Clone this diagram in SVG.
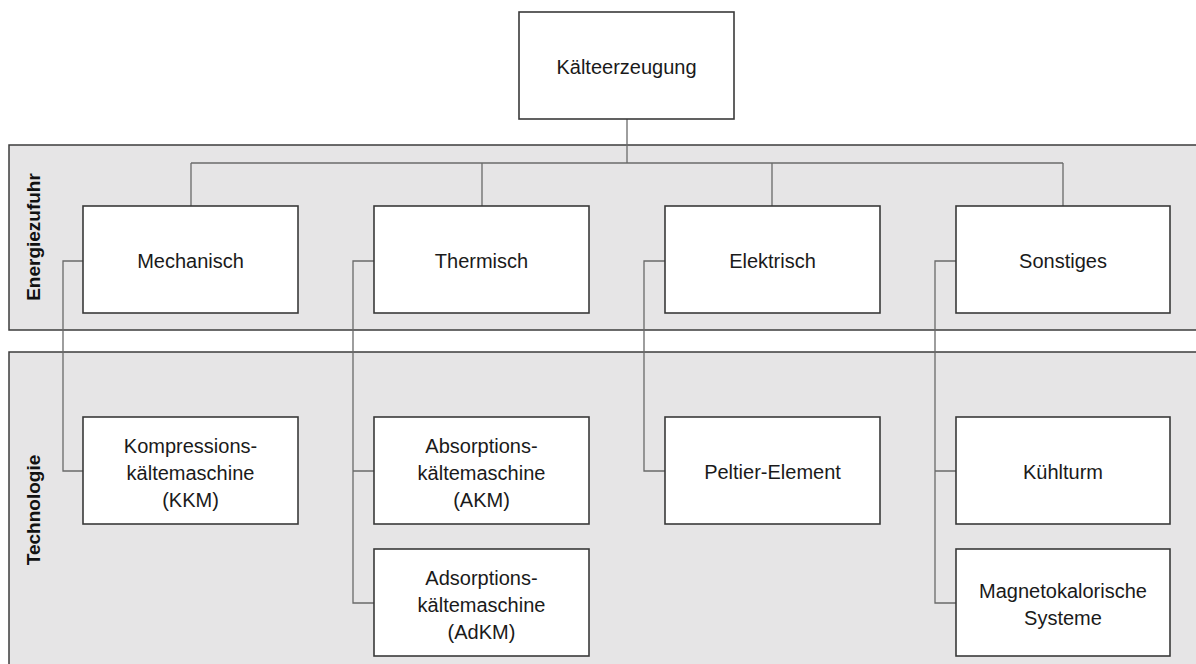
<svg xmlns="http://www.w3.org/2000/svg" width="1196" height="664" viewBox="0 0 1196 664">
  <style>
    .band { fill: #e6e5e6; stroke: #3c3c3c; stroke-width: 1.5; }
    .band-label { font-family: "Liberation Sans", Arial, sans-serif; font-size: 19px; font-weight: bold; fill: #111; text-anchor: middle; }
    .box { fill: #ffffff; stroke: #3a3a3a; stroke-width: 1.6; }
    .label { font-family: "Liberation Sans", Arial, sans-serif; font-size: 20px; fill: #1a1a1a; text-anchor: middle; }
    .conn { fill: none; stroke: #6a6a6a; stroke-width: 1.3; }
  </style>

  <rect width="1196" height="664" fill="#ffffff"/>

  <!-- Layer bands -->
  <g id="bands">
    <rect class="band" x="9" y="145" width="1200" height="185"/>
    <text class="band-label" x="40" y="237" transform="rotate(-90 40 237)">Energiezufuhr</text>
    <rect class="band" x="9" y="352" width="1200" height="330"/>
    <text class="band-label" x="40" y="510" transform="rotate(-90 40 510)">Technologie</text>
  </g>

  <!-- Connectors -->
  <g id="connectors">
    <path class="conn" d="M627 119 V163"/>
    <path class="conn" d="M191 163 H1063"/>
    <path class="conn" d="M191 163 V206 M482 163 V206 M772 163 V206 M1063 163 V206"/>
    <path class="conn" d="M83 261 H63 V471 H83"/>
    <path class="conn" d="M374 261 H353 V471 H374 M353 471 V603 H374"/>
    <path class="conn" d="M665 261 H644 V471 H665"/>
    <path class="conn" d="M956 261 H935 V471 H956 M935 471 V603 H956"/>
  </g>

  <!-- Root -->
  <g id="kaelteerzeugung">
    <rect class="box" x="519" y="12" width="215" height="107"/>
    <text class="label" x="626.5" y="74">Kälteerzeugung</text>
  </g>

  <!-- Energy supply -->
  <g id="mechanisch">
    <rect class="box" x="83" y="206" width="215" height="107"/>
    <text class="label" x="190.5" y="268">Mechanisch</text>
  </g>
  <g id="thermisch">
    <rect class="box" x="374" y="206" width="215" height="107"/>
    <text class="label" x="481.5" y="268">Thermisch</text>
  </g>
  <g id="elektrisch">
    <rect class="box" x="665" y="206" width="215" height="107"/>
    <text class="label" x="772.5" y="268">Elektrisch</text>
  </g>
  <g id="sonstiges">
    <rect class="box" x="956" y="206" width="214" height="107"/>
    <text class="label" x="1063" y="268">Sonstiges</text>
  </g>

  <!-- Technologies -->
  <g id="kkm">
    <rect class="box" x="83" y="417" width="215" height="107"/>
    <text class="label" x="190.5" y="453">Kompressions-</text>
    <text class="label" x="190.5" y="480">kältemaschine</text>
    <text class="label" x="190.5" y="507">(KKM)</text>
  </g>
  <g id="akm">
    <rect class="box" x="374" y="417" width="215" height="107"/>
    <text class="label" x="481.5" y="453">Absorptions-</text>
    <text class="label" x="481.5" y="480">kältemaschine</text>
    <text class="label" x="481.5" y="507">(AKM)</text>
  </g>
  <g id="adkm">
    <rect class="box" x="374" y="549" width="215" height="107"/>
    <text class="label" x="481.5" y="585">Adsorptions-</text>
    <text class="label" x="481.5" y="612">kältemaschine</text>
    <text class="label" x="481.5" y="639">(AdKM)</text>
  </g>
  <g id="peltier">
    <rect class="box" x="665" y="417" width="215" height="107"/>
    <text class="label" x="772.5" y="479">Peltier-Element</text>
  </g>
  <g id="kuehlturm">
    <rect class="box" x="956" y="417" width="214" height="107"/>
    <text class="label" x="1063" y="479">Kühlturm</text>
  </g>
  <g id="magnetokalorik">
    <rect class="box" x="956" y="549" width="214" height="107"/>
    <text class="label" x="1063" y="598">Magnetokalorische</text>
    <text class="label" x="1063" y="625">Systeme</text>
  </g>
</svg>
